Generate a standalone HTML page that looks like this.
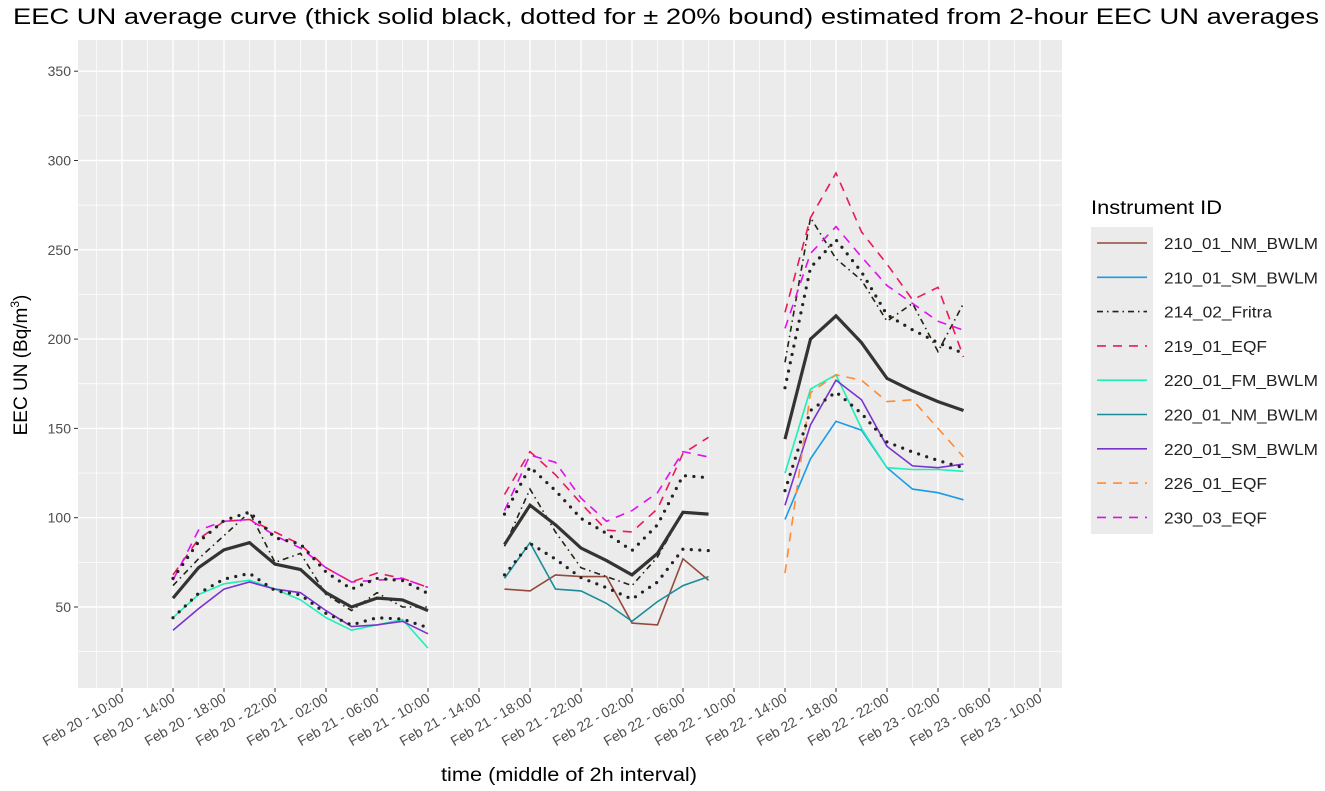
<!DOCTYPE html>
<html><head><meta charset="utf-8"><style>
body{margin:0;background:#fff;}
svg{display:block;font-family:"Liberation Sans",Arial,sans-serif;}
</style></head><body>
<svg id="chart" width="1325" height="791" viewBox="0 0 1325 791" xmlns="http://www.w3.org/2000/svg">
<text x="666" y="24" font-size="22" text-anchor="middle" textLength="1306" lengthAdjust="spacingAndGlyphs" fill="#000">EEC UN average curve (thick solid black, dotted for ± 20% bound) estimated from 2-hour EEC UN averages</text>
<rect x="78" y="40" width="984" height="648" fill="#ebebeb"/>
<g id="grid"></g>
<g id="series"></g>
<g id="axes"></g>
<text transform="translate(27,365) rotate(-90)" font-size="19" text-anchor="middle">EEC UN (Bq/m<tspan font-size="12" dy="-8">3</tspan><tspan dy="8">)</tspan></text>
<text x="569" y="781" font-size="19" text-anchor="middle" textLength="256" lengthAdjust="spacingAndGlyphs">time (middle of 2h interval)</text>
<g id="legend">
<text x="1091" y="214" font-size="19" textLength="131" lengthAdjust="spacingAndGlyphs">Instrument ID</text>
<rect x="1091" y="227" width="62" height="307" fill="#ebebeb"/>
</g>
</svg>
<script>
const NS="http://www.w3.org/2000/svg";
const yTicks=[50,100,150,200,250,300,350];
const xTickLabels=["Feb 20 - 10:00","Feb 20 - 14:00","Feb 20 - 18:00","Feb 20 - 22:00","Feb 21 - 02:00","Feb 21 - 06:00","Feb 21 - 10:00","Feb 21 - 14:00","Feb 21 - 18:00","Feb 21 - 22:00","Feb 22 - 02:00","Feb 22 - 06:00","Feb 22 - 10:00","Feb 22 - 14:00","Feb 22 - 18:00","Feb 22 - 22:00","Feb 23 - 02:00","Feb 23 - 06:00","Feb 23 - 10:00"];
const segStarts=[4,30,52];
const meanCurve=[[55,72,82,86,74,71,58,50,55,54,48],[85,107,96,83,76,68,80,103,102],[144,200,213,198,178,171,165,160]];
const s210NM=[null,[60,59,68,67,67,41,40,77,65],null];
const s210SM=[null,null,[99,133,154,149,128,116,114,110]];
const s214=[[62,77,90,103,75,80,57,48,58,50,50],[84,116,92,72,67,62,78,103,102],[187,268,245,233,210,220,193,220]];
const s219=[[68,88,98,99,92,85,72,64,69,66,61],[113,137,124,108,93,92,105,136,145],[215,268,293,260,242,222,229,190]];
const s220FM=[[44,57,63,65,60,54,44,37,40,43,27],null,[125,172,180,150,128,127,127,126]];
const s220NM=[null,[66,86,60,59,52,42,53,62,67],null];
const s220SM=[[37,49,60,64,60,58,48,39,40,42,35],null,[107,152,177,166,140,129,128,130]];
const s226=[null,null,[69,170,180,177,165,166,150,134]];
const s230=[[65,93,98,99,90,83,72,64,65,66,61],[104,135,131,111,98,104,114,137,134],[206,248,263,246,230,220,210,205]];
const names=["210_01_NM_BWLM","210_01_SM_BWLM","214_02_Fritra","219_01_EQF","220_01_FM_BWLM","220_01_NM_BWLM","220_01_SM_BWLM","226_01_EQF","230_03_EQF"];
const seriesData=[s210NM,s210SM,s214,s219,s220FM,s220NM,s220SM,s226,s230];
const colors=["#934a3c","#1a9be8","#222211","#ea1a5a","#1df0b8","#1a8c9a","#7a33cc","#ff8a33","#e010ee"];
const dashes=["","","6,4,1.5,4","9,7","","","","9,7","9,7"];
const X=h=>122+h*12.75;
const Y=v=>607-(v-50)*1.786;
function el(t,a,p){const e=document.createElementNS(NS,t);for(const k in a)e.setAttribute(k,a[k]);p.appendChild(e);return e;}
const grid=document.getElementById('grid'),ser=document.getElementById('series'),axes=document.getElementById('axes'),leg=document.getElementById('legend');
for(let v=25;v<=375;v+=50){if(Y(v)>40&&Y(v)<688){const l=el('line',{x1:78,x2:1062,y1:Y(v),y2:Y(v),stroke:'#fff','stroke-width':0.7},grid);}}
for(let h=-2;h<=74;h+=4){if(X(h)>78&&X(h)<1062){const l=el('line',{x1:X(h),x2:X(h),y1:40,y2:688,stroke:'#fff','stroke-width':0.7},grid);}}
yTicks.forEach(v=>{const l=el('line',{x1:78,x2:1062,y1:Y(v),y2:Y(v),stroke:'#fff','stroke-width':1.4},grid);
const t=el('line',{x1:74,x2:78,y1:Y(v),y2:Y(v),stroke:'#333','stroke-width':1},axes);
const tx=el('text',{x:71,y:Y(v)+5,'font-size':14,'text-anchor':'end',fill:'#4d4d4d'},axes);tx.textContent=v;});
xTickLabels.forEach((lab,i)=>{const x=X(i*4);const l=el('line',{x1:x,x2:x,y1:40,y2:688,stroke:'#fff','stroke-width':1.4},grid);
const t=el('line',{x1:x,x2:x,y1:688,y2:692,stroke:'#333','stroke-width':1},axes);
const tx=el('text',{transform:`translate(${x+3},${701}) rotate(-30)`,'font-size':14,'text-anchor':'end',fill:'#4d4d4d'},axes);tx.textContent=lab;});
function pts(seg,vals,f){return vals.map((v,j)=>X(segStarts[seg]+2*j).toFixed(1)+','+Y(f?v*f:v).toFixed(1)).join(' ');}
seriesData.forEach((sd,i)=>{sd.forEach((vals,seg)=>{if(!vals)return;const p=el('polyline',{points:pts(seg,vals),fill:'none',stroke:colors[i],'stroke-width':1.6,'stroke-dasharray':dashes[i]},ser);});});
meanCurve.forEach((vals,seg)=>{const p=el('polyline',{points:pts(seg,vals),fill:'none',stroke:'#333','stroke-width':3.2},ser);
[1.2,0.8].forEach(f=>{const b=el('polyline',{points:pts(seg,vals,f),fill:'none',stroke:'#222','stroke-width':3.2,'stroke-dasharray':'0,8.5','stroke-linecap':'round'},ser);});});
names.forEach((n,i)=>{const y=243+i*34.3;const l=el('line',{x1:1097,x2:1147,y1:y,y2:y,stroke:colors[i],'stroke-width':1.6,'stroke-dasharray':dashes[i]},leg);
const tl=n.indexOf('BWLM')>=0?154:(n.indexOf('Fritra')>=0?108:103);
const t=el('text',{x:1164,y:y+6,'font-size':16,fill:'#222',textLength:tl,lengthAdjust:'spacingAndGlyphs'},leg);t.textContent=n;});
</script>
</body></html>
